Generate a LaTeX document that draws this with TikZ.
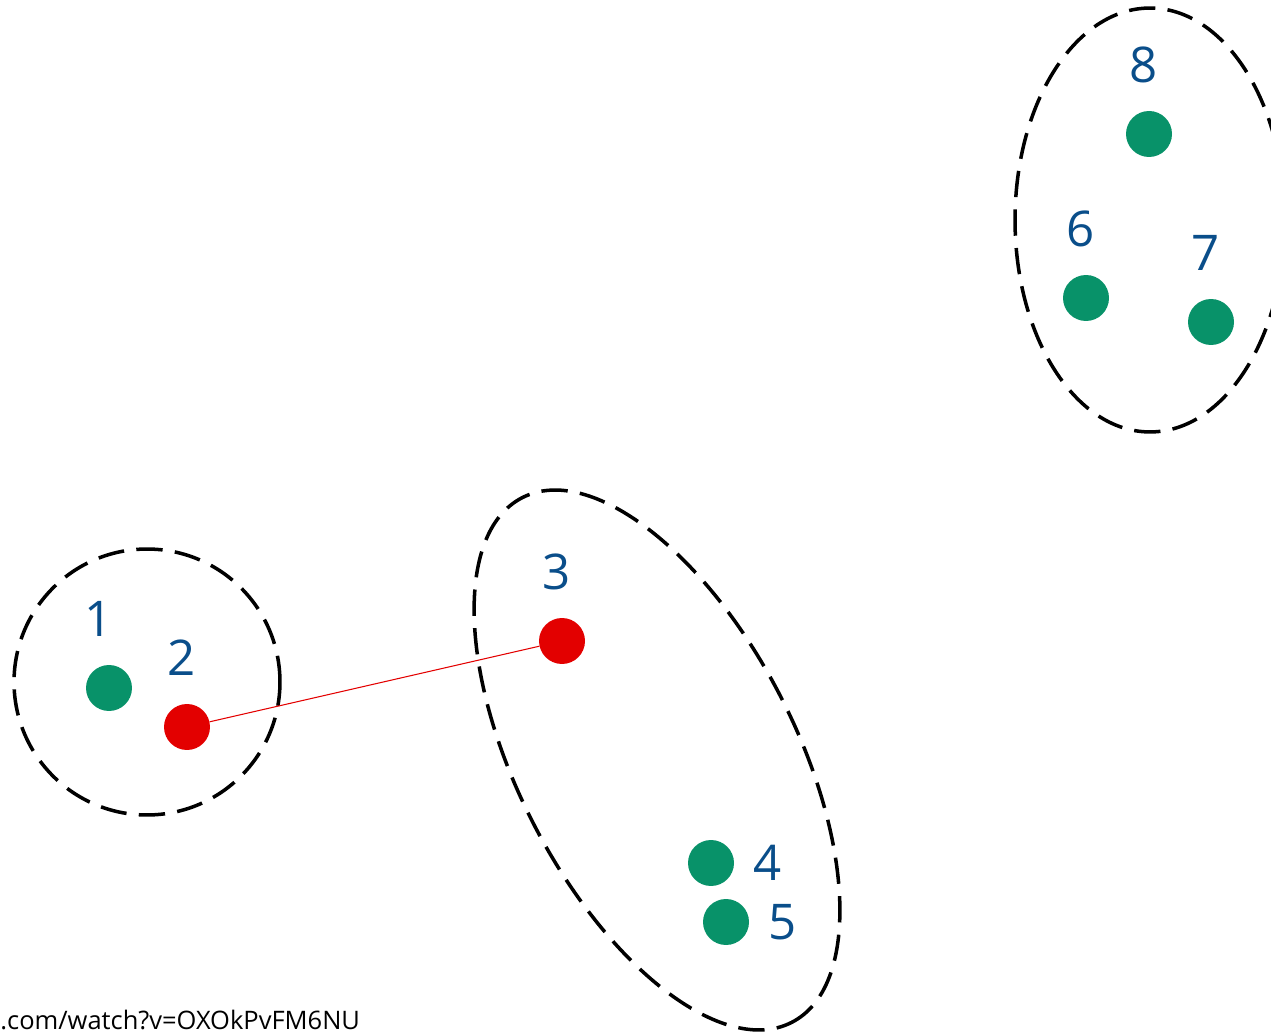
\documentclass[tikz,border=0pt]{standalone}
\usepackage{fontspec}
\setmainfont{Open Sans}
\definecolor{dotgreen}{RGB}{8,146,105}
\definecolor{dotred}{RGB}{227,0,0}
\definecolor{numblue}{RGB}{10,78,138}
\begin{document}
\begin{tikzpicture}
    [
    x=0.02cm, y=-0.02cm,
    point/.style={circle,fill=dotgreen,inner sep=0pt,minimum size=0.92cm},
    centre/.style={point,fill=dotred},
    num/.style={text=numblue,font=\fontsize{28}{32}\selectfont,inner sep=0pt},
    every label/.style={num},
    label distance=0.55cm,
    cluster/.style={black,line width=2pt,dash pattern=on 15pt off 7pt},
    link/.style={dotred,line width=0.6pt}
    ]
    \clip (0,0) rectangle (1271,1033);

    \draw [cluster] (147,682) circle [radius=2.66cm];
    \draw [cluster] (657,760) ellipse [x radius=5.9cm, y radius=2.78cm, rotate=-62.8];
    \draw [cluster] (1150,220) ellipse [x radius=2.7cm, y radius=4.24cm];

    \node (1) at (109,688) [point,label={[xshift=-0.2cm]above:1}] {};
    \node (2) at (187,727) [centre,label={[xshift=-0.1cm]above:2}] {};
    \node (3) at (562,641) [centre,label={[xshift=-0.1cm]above:3}] {};
    \node (4) at (711,863) [point,label={[label distance=0.38cm]right:4}] {};
    \node (5) at (726,922) [point,label={[label distance=0.38cm]right:5}] {};
    \node (6) at (1086,298) [point,label={[xshift=-0.1cm]above:6}] {};
    \node (7) at (1211,322) [point,label={[xshift=-0.1cm]above:7}] {};
    \node (8) at (1149,134) [point,label={[xshift=-0.1cm]above:8}] {};
    \draw [link] (2) to (3);

    \node (url) at (0,1029) [anchor=base west,inner sep=0pt,font=\fontsize{14.5}{17}\selectfont] {.com/watch?v=OXOkPvFM6NU};
\end{tikzpicture}
\end{document}
